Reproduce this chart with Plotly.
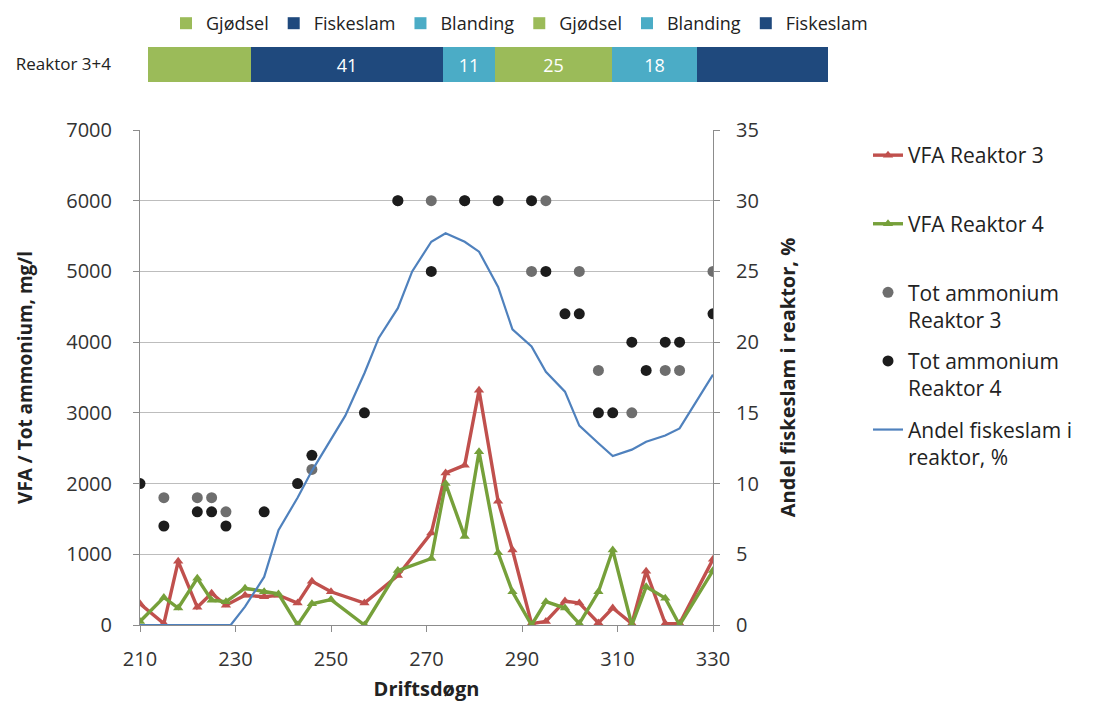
import plotly.graph_objects as go

# ---------------- data ----------------
vfa_days = [210, 215, 218, 222, 225, 228, 232, 236, 239, 243, 246, 250, 257, 264,
            271, 274, 278, 281, 285, 288, 292, 295, 299, 302, 306, 309, 313, 316,
            320, 323, 330]
vfa_r3 = [300, 20, 900, 250, 450, 280, 420, 400, 420, 310, 620, 470, 310, 700,
          1300, 2150, 2260, 3320, 1750, 1060, 20, 50, 340, 310, 30, 240, 20, 760,
          20, 20, 930]
vfa_r4 = [50, 390, 240, 660, 350, 330, 520, 470, 440, 0, 300, 360, 0, 770,
          940, 2000, 1250, 2450, 1020, 470, 0, 330, 240, 20, 470, 1060, 0, 540,
          380, 0, 770]

nh4_r3_days = [215, 222, 225, 228, 246, 264, 271, 278, 292, 295, 302, 306, 313, 320, 323, 330]
nh4_r3 = [1800, 1800, 1800, 1600, 2200, 6000, 6000, 6000, 5000, 6000, 5000, 3600, 3000, 3600, 3600, 5000]

nh4_r4_days = [210, 215, 222, 225, 228, 236, 243, 246, 257, 264, 271, 278, 285, 292, 295,
               299, 302, 306, 309, 313, 316, 320, 323, 330]
nh4_r4 = [2000, 1400, 1600, 1600, 1400, 1600, 2000, 2400, 3000, 6000, 5000, 6000, 6000, 6000, 5000,
          4400, 4400, 3000, 3000, 4000, 3600, 4000, 4000, 4400]

fisk_days = [210, 215, 218, 222, 225, 229, 232, 236, 239, 243, 246, 250, 253, 257, 260,
             264, 267, 271, 274, 278, 281, 285, 288, 292, 295, 299, 302, 306, 309, 313,
             316, 320, 323, 330]
fisk_pct = [0, 0, 0, 0, 0, 0, 1.3, 3.4, 6.7, 9.0, 10.9, 13.1, 14.8, 17.8, 20.3,
            22.4, 25.0, 27.1, 27.7, 27.1, 26.4, 23.9, 20.9, 19.7, 17.9, 16.5, 14.1, 12.85, 11.95, 12.4,
            12.96, 13.4, 13.9, 17.7]

period_names = ["Gjødsel", "Fiskeslam", "Blanding", "Gjødsel", "Blanding", "Fiskeslam"]
period_days = [22, 41, 11, 25, 18, 28]
period_labels = ["", "41", "11", "25", "18", ""]
reactor_label = ["Reaktor 3+4"]

# ---------------- style ----------------
FONT = "Open Sans"
C_GJ = "#9BBB59"
C_FI = "#1F497D"
C_BL = "#4BACC6"
period_colors = {"Gjødsel": C_GJ, "Fiskeslam": C_FI, "Blanding": C_BL}

fig = go.Figure()

for name, d, lab in zip(period_names, period_days, period_labels):
    fig.add_trace(go.Bar(
        y=reactor_label, x=[d], orientation="h", name=name,
        marker=dict(color=period_colors[name], line=dict(width=0)),
        text=[lab], textposition="inside", insidetextanchor="middle",
        textfont=dict(color="white", size=18, family=FONT),
        xaxis="x2", yaxis="y3", legend="legend2", showlegend=True,
        hoverinfo="skip",
    ))

fig.add_trace(go.Scatter(
    x=fisk_days, y=fisk_pct, mode="lines", name="Andel fiskeslam i<br>reaktor, %",
    line=dict(color="#4F81BD", width=2.2), yaxis="y2", legendrank=5, legendgroup="e",
))
fig.add_trace(go.Scatter(
    x=vfa_days, y=vfa_r3, mode="lines+markers", name="VFA Reaktor 3<br>\u00a0",
    line=dict(color="#C0504D", width=3.4),
    marker=dict(symbol="triangle-up", size=9, color="#C0504D"), legendrank=1, legendgroup="a",
))
fig.add_trace(go.Scatter(
    x=vfa_days, y=vfa_r4, mode="lines+markers", name="VFA Reaktor 4<br>\u00a0",
    line=dict(color="#76A03A", width=3.4),
    marker=dict(symbol="triangle-up", size=9, color="#76A03A"), legendrank=2, legendgroup="b",
))
fig.add_trace(go.Scatter(
    x=nh4_r3_days, y=nh4_r3, mode="markers", name="Tot ammonium<br>Reaktor 3",
    marker=dict(size=11, color="#6E6E6E"), legendrank=3, legendgroup="c",
))
fig.add_trace(go.Scatter(
    x=nh4_r4_days, y=nh4_r4, mode="markers", name="Tot ammonium<br>Reaktor 4",
    marker=dict(size=11, color="#1C1C1C"), legendrank=4, legendgroup="d",
))

# page has an 8px body margin; work in page pixel coordinates
OFF = 8
W, H = 1095 - OFF, 702 - OFF
ML, MR, MT, MB = 130, 0, 0, H - (625 - OFF)
PW, PH = W - ML - MR, H - MT - MB


def px_x(p):
    return (p - OFF - ML) / PW


def px_y(p):
    return (H - MB - (p - OFF)) / PH


grid = "#BDBDBD"
axc = "#8C8C8C"
tickfont = dict(family=FONT, size=20, color="#333333")

fig.update_layout(
    width=W, height=H,
    margin=dict(l=ML, r=MR, t=MT, b=MB, autoexpand=False),
    paper_bgcolor="white", plot_bgcolor="white",
    barmode="stack", bargap=0,
    font=dict(family=FONT, color="#222222"),
    xaxis=dict(
        domain=[px_x(140), px_x(713)], range=[210, 330], dtick=20, tick0=210,
        showgrid=False, showline=True, linecolor=axc, linewidth=1,
        ticks="outside", ticklen=6, tickcolor=axc, tickfont=tickfont,
        ticklabelstandoff=10,
        title=dict(text="Driftsdøgn",
                   font=dict(family=FONT, size=20, color="#222222", weight="bold"),
                   standoff=12),
        zeroline=False, anchor="y", automargin=False,
    ),
    yaxis=dict(
        domain=[0, px_y(130)], range=[0, 7000], dtick=1000,
        showgrid=True, gridcolor=grid, gridwidth=1,
        showline=True, linecolor=axc, linewidth=1,
        ticks="outside", ticklen=6, tickcolor=axc, tickfont=tickfont,
        ticklabelstandoff=17,
        title=dict(text="VFA / Tot ammonium, mg/l",
                   font=dict(family=FONT, size=19, color="#222222", weight="bold"),
                   standoff=28),
        zeroline=False, anchor="x", automargin=False,
    ),
    yaxis2=dict(
        overlaying="y", side="right", range=[0, 35], dtick=5, anchor="x",
        showgrid=False, showline=True, linecolor=axc, linewidth=1,
        ticks="outside", ticklen=6, tickcolor=axc, tickfont=tickfont,
        ticklabelstandoff=12,
        title=dict(text="Andel fiskeslam i reaktor, %",
                   font=dict(family=FONT, size=20, color="#222222", weight="bold"),
                   standoff=23),
        zeroline=False, automargin=False,
    ),
    xaxis2=dict(
        domain=[px_x(148), px_x(828)], range=[0, sum(period_days)], visible=False,
        anchor="y3", automargin=False,
    ),
    yaxis3=dict(
        domain=[px_y(82), px_y(47)], anchor="x2", type="category",
        showgrid=False, showline=False, zeroline=False,
        ticks="", ticklabelstandoff=36, automargin=False,
        tickfont=dict(family=FONT, size=17, color="#222222"),
    ),
    legend=dict(
        x=px_x(868), y=px_y(135), xanchor="left", yanchor="top",
        font=dict(family=FONT, size=21, color="#222222"),
        traceorder="grouped", tracegroupgap=11, valign="top",
        bgcolor="rgba(0,0,0,0)",
    ),
    legend2=dict(
        orientation="h", x=px_x(166), y=px_y(5), xanchor="left", yanchor="top",
        font=dict(family=FONT, size=18, color="#222222"),
        traceorder="normal", bgcolor="rgba(0,0,0,0)",
        itemwidth=30,
    ),
    showlegend=True,
)

fig.write_html("out.html")
